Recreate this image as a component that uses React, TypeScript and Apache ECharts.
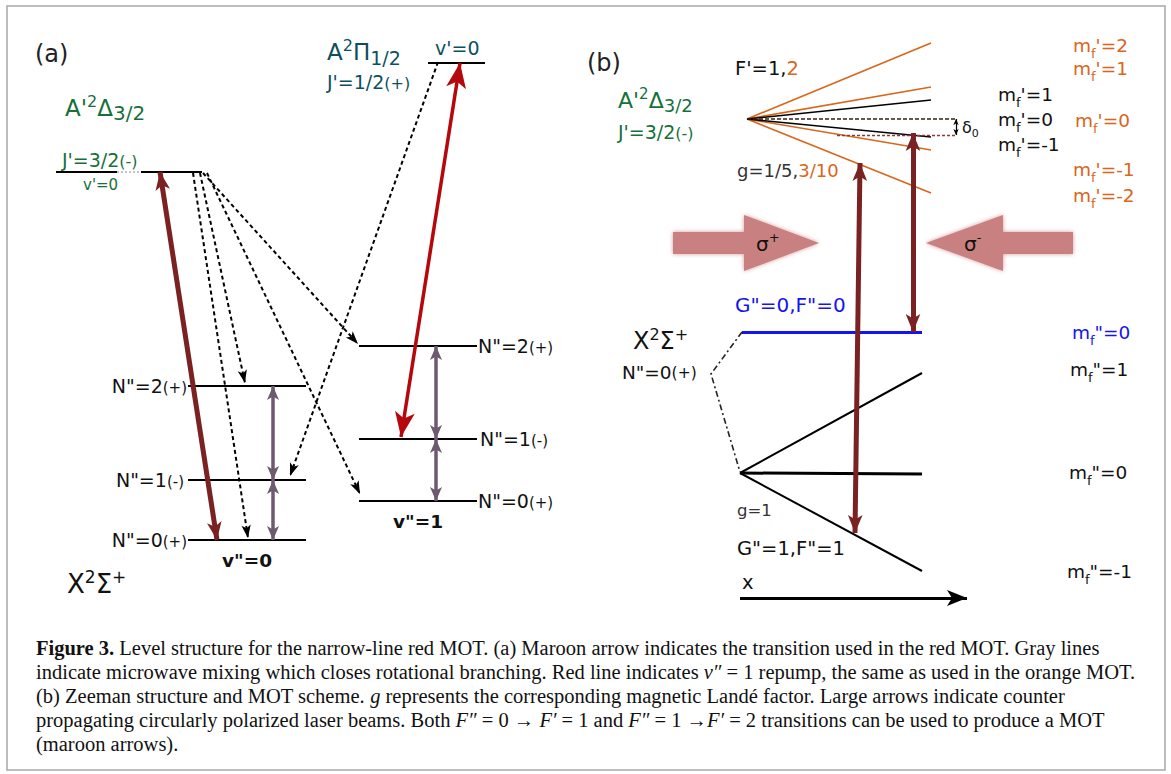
import React, { useEffect, useRef } from "react";
import * as echarts from "echarts";

const W = 1171;
const H = 774;
const SANS = "'DejaVu Sans', 'Liberation Sans', Arial, sans-serif";
const SERIF = "'Liberation Serif', 'Times New Roman', serif";

const C = {
  black: "#111111",
  green: "#17703a",
  teal: "#0e4f5f",
  orange: "#d9661a",
  blue: "#1414f0",
  maroon: "#7a2222",
  red: "#b5080c",
  mauve: "#6e5a70",
  pink: "#c98080",
  gray: "#333333",
};

// ---------- panel (a): energy levels [x1, y1, x2, y2] ----------
const levelsA: number[][] = [
  [56, 172, 117, 172],
  [141, 172, 202, 172], // A'2Δ3/2 J'=3/2, v'=0
  [428, 63, 485, 63], // A2Π1/2 v'=0
  [188, 386, 306, 386],
  [188, 480, 306, 480],
  [188, 540, 306, 540], // X v''=0  N''=2,1,0
  [359, 346, 477, 346],
  [359, 439, 477, 439],
  [359, 501, 477, 501], // X v''=1  N''=2,1,0
];
const levelGapA: number[] = [117, 172, 141, 172];
const decayArrows: number[][] = [
  [438, 62, 290, 476],
  [193, 173, 248, 538],
  [200, 173, 245, 383],
  [207, 173, 360, 494],
  [203, 173, 358, 344],
];
const microwaveArrows: number[][] = [
  [273, 386, 273, 480],
  [273, 480, 273, 540],
  [436, 346, 436, 439],
  [436, 439, 436, 501],
];
const repumpArrows: number[][] = [[460, 63, 401, 437]];
const maroonArrows: number[][] = [
  [160, 172, 217, 540],
  [860, 163, 855, 533],
  [913, 133, 913, 332],
];

// ---------- panel (b): Zeeman structure ----------
const fanOrigin = [747, 119];
const fanEndX = 931;
const fanOrangeEnds = [43, 87, 150, 193];
const fanBlackEnds = [100, 137];
const zeroLine = [747, 119, 957, 119];
const shiftedLine = [837, 135, 957, 135];
const deltaArrow = [956, 119, 956, 135];
const blueLevel = [742, 332, 922, 332];
const groundOrigin = [740, 473];
const groundEndX = 922;
const groundEnds = [373, 474, 571];
const connector = [
  [742, 332],
  [711, 374],
  [740, 472],
];
const xAxisArrow = [740, 598, 967, 598];
// laser beams: tail x, head-base x, tip x
const beams: number[][] = [
  [673, 744, 819],
  [1073, 1003, 926],
];
const beamCenterY = 243;
const beamShaftHalf = 11;
const beamHeadHalf = 28;

// ---------- labels: [rich text, x, y, style, align] ----------
type Lab = [string, number, number, string, string?];
const labels: Lab[] = [
  ["{n|(a)}", 35, 54, "head"],
  ["{n|A'}{sup|2}{n|Δ}{sub|3/2}", 65, 108, "greenA"],
  ["{n|J'=3/2}{s|(-)}", 62, 160, "greenJ"],
  ["{n|v'=0}", 83, 185, "greenV"],
  ["{n|A}{sup|2}{n|Π}{sub|1/2}", 327, 52, "tealA"],
  ["{n|J'=1/2}{s|(+)}", 327, 82, "tealJ"],
  ["{n|v'=0}", 435, 48, "tealV"],
  ['{n|N"=2}{s|(+)}', 187, 386, "nlab", "right"],
  ['{n|N"=1}{s|(-)}', 184, 480, "nlab", "right"],
  ['{n|N"=0}{s|(+)}', 187, 540, "nlab", "right"],
  ['{n|N"=2}{s|(+)}', 478, 346, "nlab"],
  ['{n|N"=1}{s|(-)}', 480, 439, "nlab"],
  ['{n|N"=0}{s|(+)}', 478, 501, "nlab"],
  ['{n|v"=0}', 222, 560, "vbold"],
  ['{n|v"=1}', 393, 521, "vbold"],
  ["{n|X}{sup|2}{n|Σ}{sup|+}", 67, 584, "xsig"],
  ["{n|(b)}", 587, 63, "head"],
  ["{n|F'=1,}{o|2}", 735, 68, "fLab"],
  ["{n|A'}{sup|2}{n|Δ}{sub|3/2}", 618, 100, "greenB"],
  ["{n|J'=3/2}{s|(-)}", 618, 132, "greenJb"],
  ["{n|g=1/5,}{o|3/10}", 737, 170, "gLab"],
  ["{n|m}{sub|f}{n|'=1}", 998, 94, "mBlack"],
  ["{n|m}{sub|f}{n|'=0}", 998, 119, "mBlack"],
  ["{n|m}{sub|f}{n|'=-1}", 998, 144, "mBlack"],
  ["{n|δ}{sub|0}", 962, 127, "delta"],
  ["{n|m}{sub|f}{n|'=2}", 1073, 45, "mOrange"],
  ["{n|m}{sub|f}{n|'=1}", 1073, 68, "mOrange"],
  ["{n|m}{sub|f}{n|'=0}", 1075, 120, "mOrange"],
  ["{n|m}{sub|f}{n|'=-1}", 1073, 169, "mOrange"],
  ["{n|m}{sub|f}{n|'=-2}", 1073, 195, "mOrange"],
  ["{n|σ}{sup|+}", 756, 244, "sigma"],
  ["{n|σ}{sup|-}", 964, 244, "sigma"],
  ['{n|G"=0,F"=0}', 735, 305, "blueG"],
  ['{n|m}{sub|f}{n|"=0}', 1072, 332, "mBlue"],
  ["{n|X}{sup|2}{n|Σ}{sup|+}", 633, 341, "xsigB"],
  ['{n|N"=0}{s|(+)}', 622, 372, "nlabB"],
  ['{n|m}{sub|f}{n|"=1}', 1070, 369, "mBlack"],
  ['{n|m}{sub|f}{n|"=0}', 1069, 472, "mBlack"],
  ['{n|m}{sub|f}{n|"=-1}', 1067, 571, "mBlack"],
  ["{n|g=1}", 737, 510, "gray17"],
  ['{n|G"=1,F"=1}', 737, 548, "black19"],
  ["{n|x}", 742, 582, "black19"],
];

const captionLines = [
  "{b|Figure 3.} Level structure for the narrow-line red MOT. (a) Maroon arrow indicates the transition used in the red MOT. Gray lines",
  "indicate microwave mixing which closes rotational branching. Red line indicates {i|v″} = 1 repump, the same as used in the orange MOT.",
  "(b) Zeeman structure and MOT scheme. {i|g} represents the corresponding magnetic Landé factor. Large arrows indicate counter",
  "propagating circularly polarized laser beams. Both {i|F″} = 0 → {i|F′} = 1 and {i|F″} = 1 →{i|F′} = 2 transitions can be used to produce a MOT",
  "(maroon arrows).",
];

// ---------- styles ----------
type St = { size: number; color: string; sup?: number; sub?: number; small?: number; bold?: boolean; drop?: number };
const styles: Record<string, St> = {
  head: { size: 24, color: "#222" },
  greenA: { size: 23, sup: 16, sub: 20, color: C.green },
  greenJ: { size: 19, small: 16, color: C.green },
  greenV: { size: 15, color: C.green },
  tealA: { size: 23, sup: 16, sub: 19, color: C.teal },
  tealJ: { size: 19, small: 16, color: C.teal },
  tealV: { size: 19, color: C.teal },
  nlab: { size: 19, small: 15, color: C.black },
  vbold: { size: 18.5, bold: true, color: C.black },
  xsig: { size: 26, sup: 17, color: C.black },
  fLab: { size: 19.5, color: C.black },
  greenB: { size: 22, sup: 15, sub: 18, color: C.green },
  greenJb: { size: 19, small: 16, color: C.green },
  gLab: { size: 18, color: C.gray },
  mBlack: { size: 18.5, sub: 13, drop: 6, color: C.black },
  mOrange: { size: 18.5, sub: 13, drop: 6, color: C.orange },
  mBlue: { size: 18.5, sub: 13, drop: 6, color: C.blue },
  delta: { size: 16, sub: 11, color: C.black },
  sigma: { size: 20, sup: 13, color: C.black },
  blueG: { size: 20, color: C.blue },
  xsigB: { size: 24, sup: 16, color: C.black },
  nlabB: { size: 18.5, small: 15.5, color: C.black },
  gray17: { size: 16.5, color: C.gray },
  black19: { size: 19.5, color: C.black },
};

// shift a token's text vertically (positive = down) with asymmetric padding
function shifted(fontSize: number, color: string, offset: number) {
  const d = Math.round(Math.abs(offset) * 2);
  return {
    fontSize,
    fontFamily: SANS,
    color,
    verticalAlign: "middle",
    padding: offset >= 0 ? [d, 0, 0, 0] : [0, 0, d, 0],
  };
}

function richFor(st: St) {
  const L = Math.round(st.size * 2.2);
  const k = 0.365;
  const r: any = {
    n: { fontSize: st.size, fontFamily: SANS, color: st.color, lineHeight: L, fontWeight: st.bold ? "bold" : "normal" },
    o: { fontSize: st.size, fontFamily: SANS, color: C.orange, lineHeight: L },
  };
  if (st.sup) r.sup = shifted(st.sup, st.color, -k * st.size - 4 + k * st.sup);
  if (st.sub) r.sub = shifted(st.sub, st.color, k * st.size + (st.drop ?? 4) - k * st.sub);
  if (st.small) r.s = shifted(st.small, st.color, k * (st.size - st.small));
  return r;
}

// arrow head sizes [width param, length]
const HEAD = {
  dashed: [7, 13],
  mauve: [9, 14],
  red: [15, 25],
  maroon: [11, 18],
  axis: [12, 20],
  delta: [4, 6],
};

function seg(s: number[], color: string, width: number, dash: any = "solid", head?: number[], both = false) {
  return {
    coords: [
      [s[0], s[1]],
      [s[2], s[3]],
    ],
    lineStyle: { color, width, type: dash, opacity: 1, curveness: 0, cap: "butt" },
    symbol: [head && both ? "arrow" : "none", head ? "arrow" : "none"],
    symbolSize: [head || [1, 1], head || [1, 1]],
  };
}

function buildOption() {
  const levelItems: any[] = [
    ...levelsA.map((s) => seg(s, "#000", 2)),
    seg(levelGapA, "#c4c4c4", 2, [2, 2]),
    ...fanOrangeEnds.map((y) => seg([fanOrigin[0], fanOrigin[1], fanEndX, y], C.orange, 1.6)),
    ...fanBlackEnds.map((y) => seg([fanOrigin[0], fanOrigin[1], fanEndX, y], "#000", 1.6)),
    seg(zeroLine, "#3a2010", 1.6, [4, 2]),
    seg(shiftedLine, "#8b3a3a", 1.3, [3, 2]),
    ...groundEnds.map((y, i) => seg([groundOrigin[0], groundOrigin[1], groundEndX, y], "#000", i === 1 ? 3 : 2)),
    seg(blueLevel, C.blue, 3),
  ];
  const dashedItems: any[] = decayArrows.map((s) => seg(s, "#000", 2, [4, 3], HEAD.dashed));
  const arrowItems: any[] = [
    ...microwaveArrows.map((s) => seg(s, C.mauve, 3.5, "solid", HEAD.mauve, true)),
    ...repumpArrows.map((s) => seg(s, C.red, 3.5, "solid", HEAD.red, true)),
    ...maroonArrows.map((s) => seg(s, C.maroon, 5, "solid", HEAD.maroon, true)),
    seg(deltaArrow, "#000", 1.2, "solid", HEAD.delta, true),
    seg(xAxisArrow, "#000", 3, "solid", HEAD.axis),
  ];

  const labelData = labels.map(([t, x, y, st, al]) => ({
    value: [x, y],
    label: {
      show: true,
      position: al === "right" ? "left" : "right",
      distance: 0,
      formatter: t,
      color: "#000",
      opacity: 1,
      textBorderWidth: 0,
      rich: richFor(styles[st]),
    },
  }));

  const CAP = 20.5;
  const captionRich = {
    b: { fontFamily: SERIF, fontSize: CAP, fontWeight: "bold", fill: "#111" },
    i: { fontFamily: SERIF, fontSize: CAP, fontStyle: "italic", fill: "#111" },
  };

  return {
    animation: false,
    grid: { left: 0, right: 0, top: 0, bottom: 0 },
    xAxis: { type: "value", min: 0, max: W, show: false },
    yAxis: { type: "value", min: 0, max: H, inverse: true, show: false },
    graphic: [
      {
        type: "rect",
        silent: true,
        shape: { x: 7, y: 6, width: 1158, height: 764 },
        style: { fill: "none", stroke: "#a8a8a8", lineWidth: 1.5 },
      },
      ...captionLines.map((t, i) => ({
        type: "text",
        silent: true,
        x: 36,
        y: 648 + i * 24,
        style: {
          text: t,
          fontFamily: SERIF,
          fontSize: CAP,
          fill: "#111",
          verticalAlign: "middle",
          align: "left",
          rich: captionRich,
        },
      })),
    ],
    series: [
      {
        type: "custom",
        coordinateSystem: "cartesian2d",
        silent: true,
        z: 1,
        data: beams.map((b) => [b[0], beamCenterY, b[1], b[2], beamShaftHalf, beamHeadHalf]),
        renderItem: (_p: any, api: any) => {
          const tail = api.value(0);
          const cy = api.value(1);
          const base = api.value(2);
          const tip = api.value(3);
          const sh = api.value(4);
          const hh = api.value(5);
          const pts = [
            [tail, cy - sh],
            [base, cy - sh],
            [base, cy - hh],
            [tip, cy],
            [base, cy + hh],
            [base, cy + sh],
            [tail, cy + sh],
          ].map((p) => api.coord(p));
          return {
            type: "polygon",
            shape: { points: pts },
            style: { fill: C.pink, shadowBlur: 4, shadowColor: "rgba(201,128,128,0.8)" },
          };
        },
      },
      {
        type: "lines",
        coordinateSystem: "cartesian2d",
        silent: true,
        z: 2,
        lineStyle: { opacity: 1 },
        data: levelItems,
      },
      {
        type: "lines",
        coordinateSystem: "cartesian2d",
        polyline: true,
        silent: true,
        z: 2,
        lineStyle: { opacity: 1 },
        data: [{ coords: connector, lineStyle: { color: "#222", width: 1.6, type: [6, 3, 2, 3], opacity: 1 } }],
      },
      {
        type: "lines",
        coordinateSystem: "cartesian2d",
        silent: true,
        z: 3,
        lineStyle: { opacity: 1 },
        data: dashedItems,
      },
      {
        type: "lines",
        coordinateSystem: "cartesian2d",
        silent: true,
        z: 4,
        lineStyle: { opacity: 1 },
        data: arrowItems,
      },
      {
        type: "scatter",
        silent: true,
        z: 5,
        symbolSize: 0,
        itemStyle: { color: "transparent", opacity: 1 },
        data: labelData,
      },
    ],
  };
}

export default function App() {
  const ref = useRef<HTMLDivElement>(null);
  useEffect(() => {
    const chart = echarts.init(ref.current!, null, { renderer: "svg" });
    chart.setOption(buildOption() as any);
    return () => chart.dispose();
  }, []);
  return (
    <div
      ref={ref}
      style={{ position: "fixed", left: 0, top: 0, width: W, height: H, background: "#fff" }}
    />
  );
}
